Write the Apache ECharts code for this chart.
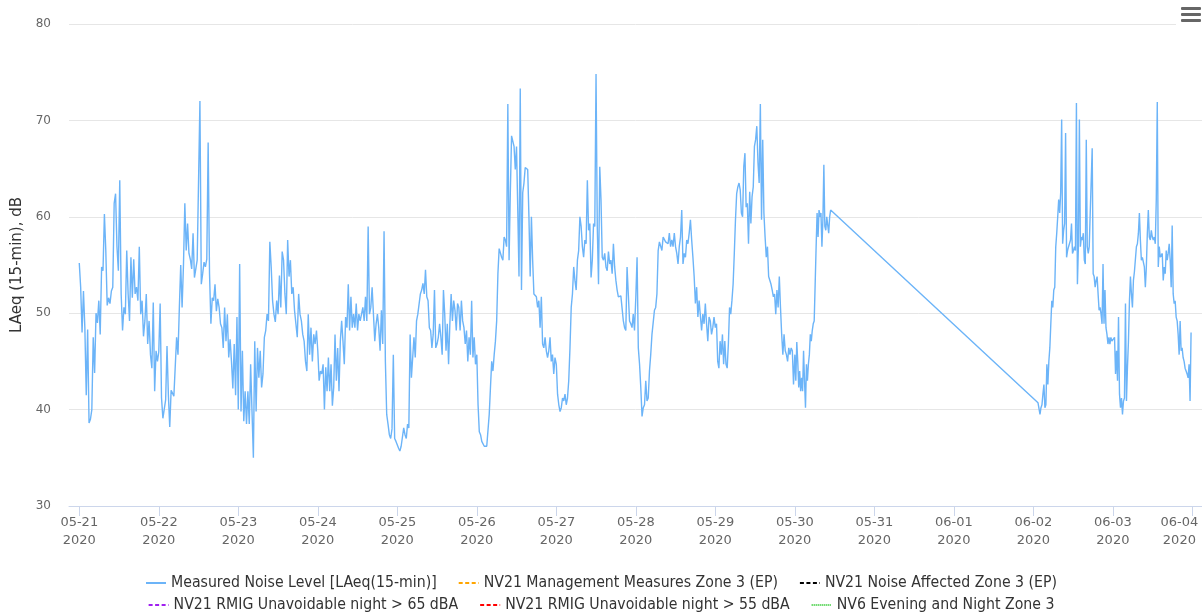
<!DOCTYPE html>
<html><head><meta charset="utf-8">
<script src="https://cdn.jsdelivr.net/npm/echarts@6/dist/echarts.min.js"></script>
<style>html,body{margin:0;padding:0;background:#fff}#c{width:1202px;height:615px}</style>
</head><body><div id="c"></div>
<script>
// ---- data (15-min noise levels; evenly spread within each day segment) ----
const dayDates = ['2020-05-21','2020-05-22','2020-05-23','2020-05-24','2020-05-25','2020-05-26','2020-05-27','2020-05-28','2020-05-29','2020-05-30','2020-06-02','2020-06-03'];
const segStartHour = [0,0,0,0,0,0,0,0,0,0,1.4,0.5];
const segEndHour = [23.6,23.6,23.6,23.6,23.6,23.6,23.6,23.6,23.6,10.8,23.7,23.6];

const d0521 = [55.2,52.7,48,52.3,48.5,41.5,48.3,38.6,39,40,47.5,43.8,50,49,51.3,47.8,54.8,54.4,60.3,56.5,50.8,51.6,51,52.3,52.7,61.4,62.4,56.9,54.4,63.8,52,48.2,50.6,49.9,56.5,52,49.2,55.8,51.6,55.6,52,52.7,51.3,56.9,49.9,51.3,47.6,49.2,52,46.8,49.2,45.7,44.3,51.1,41.9,46.1,45];
const d0522 = [46,51,41.2,39.1,39.1,41,46.6,41.5,38.2,42,42,41.4,41.2,47.5,45.7,50.6,55,50.6,55,61.4,56.5,59.3,56.2,55.6,54.6,58.3,53.7,54.6,55.5,55.6,72,53,54.1,55.3,54.8,55.6,67.7,54.1,48.9,51.6,51.3,53,50.2,51.5,50.6,48.9,48.5,46.4,50.6,47.1,49.9,45.4,47.3,45,42.2,46.8,41.5,49.6];
const d0523 = [40,55.1,39.8,46.1,38.8,41.9,38.5,41.9,38.5,44.7,39.8,35,47.1,39.8,46.4,43.3,46.1,42.3,43.7,47.5,48.2,49.9,49.2,57.4,54.8,51.3,49.9,49.1,51.3,49.9,53.9,50.6,56.4,55.5,52,49.9,57.6,53.8,55.5,52,52.7,50.3,48.9,47.5,52,49.9,49.2,47.8,47.1,45,44,49.9,45.7,48.5,45,47.8,46.8,48.2];
const d0524 = [46.1,43,44,43.7,44.7,40,44.4,41.9,45.4,41.9,44.7,40.4,42.3,47.8,43,46.4,41.9,47.1,49.2,47.1,44.7,49.6,48.5,53,48.2,51.7,48.5,49.9,48.5,51,48.2,49.9,49.2,49.9,50.6,49.2,51.7,49.2,59,49.9,50.6,52.7,49.9,47.1,48.9,49.9,48.5,46.1,50.3,46.8,58.5,45,39.5,38.5,37.4,37,38,45.7,37,36.7];
const d0525 = [36.7,36,35.7,36.2,36.2,38.1,37.4,37,38.5,38.1,47.8,43.3,45.4,47.5,45.4,49.2,49.9,49.9,52,52.4,53.1,52,54.5,51.7,51.3,48.5,48.2,46.4,47.8,52.4,46.4,46.8,47.5,48.9,47.5,45.7,52.4,49.9,46.1,48.9,44.7,48.9,52,49.2,51.3,50.3,48.2,51,50.6,48.2,51.3,49.2,48.5,46.8,48.2,45,47.5,45.7,51.3,45.4,47.5,44.7];
const d0526 = [45.7,40.5,37.7,37.4,36.7,36.5,36.2,36,36.2,36,39.5,42.3,45,44,45.7,47.1,49.2,54.1,56.7,56.5,55.8,55.5,57.9,57.6,56.9,71.7,55.5,62.5,68.4,68.4,67.3,64.9,67.3,60.7,53.8,73.3,52.4,62.5,63.5,65.1,64.9,64.9,60,53.8,60,55.5,52,51.8,51.7,50.6,51.3,48.5,51.7,46.8,46.4,47.5,46.1,45.4,46.1,47.5,45,45.7,43.7,45.4];
const d0527 = [44.7,41.6,40.5,39.8,40.2,41.2,40.9,41.6,40.5,41.2,43,46.4,50.6,52,54.8,53.4,52.4,55.5,56.5,60,59,56.9,55.8,57.6,57.2,63.8,58.6,59.3,53.7,55.5,59.3,59,74.8,59,53,65.2,61.8,55.8,55.5,56.2,54.8,54.4,56.4,55.1,55.5,54.1,57.2,54.8,53.4,52.4,51.7,51.7,51.8,51.7,49.2,48.5,48.2,54.8,52,49.2,48.9,48.5,49.9,48.2];
const d0528 = [51.7,55.8,46.4,44.7,42.3,39.3,40.2,40.5,43,40.9,41.2,44,45.7,47.8,47.8,50.3,50.6,52,56.5,57.4,57.2,56.5,57.9,57.9,57.4,57.6,57.2,58.3,56.9,57.6,56.9,58.3,56.9,56.2,55.1,56.9,57.9,60.7,55.1,56.2,55.8,57.6,57.2,58.3,59.7,57.6,55.8,53.8,51,52.7,49.6,51.3,51.3,48.2,49.9,48.9,51,48.9,47.1,49.6,49.2,47.8,48.5,49.6];
const d0529 = [48.5,48.9,45,44.3,47.1,45.7,47.8,44.7,47.1,44.7,44.3,46.8,50.6,49.9,51.3,53,56.2,59.7,62.4,63.1,63.5,62.8,60.4,60,65.2,66.6,61,61.4,57.2,62.6,59.3,62.1,63.1,67.3,68,69.4,65.6,63.5,71.7,59.7,68,60.4,57.9,55.8,56.9,53.8,53.6,53,52.4,51.7,52,49.9,52.4,50.6,53.8,50.6,47.8,45.7,47.8,46.1,45.7,45,46.4,45.7,46.4,46.1,42.6];
const d0530 = [45.7,43,47,45,42.3,44,41.9,43.3,41.9,46.1,43,40.2,44.7,43,44.7,45.7,47.8,47.1,48.2,48.9,49.2,53,56.9,60.4,57.9,60.7,60,60.4,56.9,59.7,65.4,59,58.6,60,60,58.3,60,60.7];
const d0602 = [40.7,40.7,39.5,40.2,40.5,41.6,42.6,40.2,40.5,44.7,42.6,45,46.4,48.9,51.3,50.6,52.4,52.7,56.9,58.3,60,61.8,60.4,62.5,70.1,57.2,58.6,59.3,68.7,55.8,56.5,56.9,56.9,57.6,59.3,56.2,56.5,56.9,56.5,71.8,53,56.9,70.1,56.9,57.9,57.6,58.3,55.5,55.1,68,56.9,56.2,56.9,60.4,60.4,67.1,54.1,53.8,52.7,53.4,53.8,52,50.3,50.6,49.9,48.9,55.1,48.9,52.4,48.5,47.8,46.8,47.5,46.8,47.5,47.1];
const d0603 = [47.5,43.7,46.1,43,49.6,41.6,40.2,41.2,39.5,40.9,41.2,51,40.9,44.4,47.1,51.3,53.8,52,50.6,53.4,54.3,54.5,56.9,57.2,58.3,60.4,57.6,55.5,55.8,55.8,54.8,52.7,54.8,58.3,60.7,57.9,57.6,58.6,57.9,57.6,57.9,57.2,61.8,71.9,54.8,56.9,55.8,55.8,56.2,53.4,54.8,54.1,56.5,55.5,56.2,57.2,55.5,52.7,59.1,52,51,51.3,49.6,49.2,47.8,45.7,49.2,46.1,46.4,45.4,45,44.3,44,43.7,43.3,44.7,40.9,48];
const dayValues = [d0521,d0522,d0523,d0524,d0525,d0526,d0527,d0528,d0529,d0530,d0602,d0603];

const tickDays = ['2020-05-21','2020-05-22','2020-05-23','2020-05-24','2020-05-25','2020-05-26','2020-05-27','2020-05-28','2020-05-29','2020-05-30','2020-05-31','2020-06-01','2020-06-02','2020-06-03','2020-06-04'];
const yTicks = [30,40,50,60,70,80];
const seriesNames = ['Measured Noise Level [LAeq(15-min)]','NV21 Management Measures Zone 3 (EP)','NV21 Noise Affected Zone 3 (EP)','NV21 RMIG Unavoidable night > 65 dBA','NV21 RMIG Unavoidable night > 55 dBA','NV6 Evening and Night Zone 3'];
const yAxisTitle = 'LAeq (15-min), dB';

// ---- build ----
const H = 3600 * 1000;
const ts = s => new Date(s + 'T00:00:00Z').getTime();
const measured = [];
dayValues.forEach((vals, k) => {
  const base = ts(dayDates[k]);
  const s = segStartHour[k], e = segEndHour[k];
  vals.forEach((v, i) => {
    measured.push([base + (s + i * (e - s) / (vals.length - 1)) * H, v]);
  });
});
const tickVals = tickDays.map(ts);
const lastTick = tickVals[tickVals.length - 1];
const pad2 = n => (n < 10 ? '0' : '') + n;

const styles = [
  {color: '#6cb4f8', type: 'solid', width: 1.4},
  {color: '#ffa500', type: [4, 2.5], width: 1.2},
  {color: '#000000', type: [4, 2.5], width: 1.2},
  {color: '#a020f0', type: [4, 2.5], width: 1.2},
  {color: '#ff0000', type: [4, 2.5], width: 1.2},
  {color: '#33cc33', type: [1, 1], width: 1.2}
];

const series = seriesNames.map((name, i) => ({
  name, type: 'line', symbol: 'none', showSymbol: false,
  data: i === 0 ? measured : [],
  color: styles[i].color,
  lineStyle: {color: styles[i].color, type: styles[i].type, width: styles[i].width},
  emphasis: {disabled: true},
  animation: false
}));

const legendText = {fontFamily: 'DejaVu Sans Condensed', fontSize: 15.7, color: '#333333'};
const legendBase = {left: 'center', itemGap: 21, itemWidth: 20, itemHeight: 14, textStyle: legendText, selectedMode: false, itemStyle: {opacity: 0}, padding: 0};
const chart = echarts.init(document.getElementById('c'), null, {renderer: 'canvas'});
chart.setOption({
  backgroundColor: '#ffffff',
  animation: false,
  grid: {left: 69, right: 0, top: 24, bottom: 109, containLabel: false, outerBoundsMode: 'none'},
  xAxis: {
    type: 'value',
    min: tickVals[0] - 3.1 * H,
    max: lastTick + 2.9 * H,
    axisLine: {show: true, lineStyle: {color: '#ccd6eb', width: 1}},
    axisTick: {show: true, length: 10, lineStyle: {color: '#ccd6eb'}, customValues: tickVals},
    axisLabel: {
      customValues: tickVals,
      color: '#666666', fontSize: 13, fontFamily: 'DejaVu Sans', lineHeight: 18, margin: 8,
      formatter: v => {
        const d = new Date(v);
        const a = pad2(d.getUTCMonth() + 1) + '-' + pad2(d.getUTCDate()), b = '' + d.getUTCFullYear();
        return v === lastTick ? '{e|' + a + '}\n{e|' + b + '}' : a + '\n' + b;
      },
      rich: {e: {color: '#666666', fontSize: 13, fontFamily: 'DejaVu Sans', lineHeight: 18, padding: [0, 26, 0, 0]}}
    },
    splitLine: {show: false}
  },
  yAxis: {
    type: 'value', min: yTicks[0], max: yTicks[yTicks.length - 1], interval: 10,
    name: yAxisTitle, nameLocation: 'middle', nameGap: 43,
    nameTextStyle: {color: '#333333', fontSize: 15, fontFamily: 'DejaVu Sans'},
    axisLine: {show: false}, axisTick: {show: false},
    axisLabel: {color: '#666666', fontSize: 12, fontFamily: 'DejaVu Sans', margin: 18},
    splitLine: {show: true, lineStyle: {color: '#e6e6e6', width: 1}}
  },
  legend: [
    Object.assign({data: seriesNames.slice(0, 3), top: 575}, legendBase),
    Object.assign({data: seriesNames.slice(3), top: 597}, legendBase)
  ],
  graphic: [
    {type: 'rect', left: 1176, top: 0, shape: {width: 26, height: 27}, style: {fill: '#ffffff'}, z: 100},
    {type: 'rect', left: 1181, top: 7, shape: {width: 20, height: 3, r: 1}, style: {fill: '#666666'}, z: 101},
    {type: 'rect', left: 1181, top: 13, shape: {width: 20, height: 3, r: 1}, style: {fill: '#666666'}, z: 101},
    {type: 'rect', left: 1181, top: 19, shape: {width: 20, height: 3, r: 1}, style: {fill: '#666666'}, z: 101}
  ],
  series
});
</script>
</body></html>
